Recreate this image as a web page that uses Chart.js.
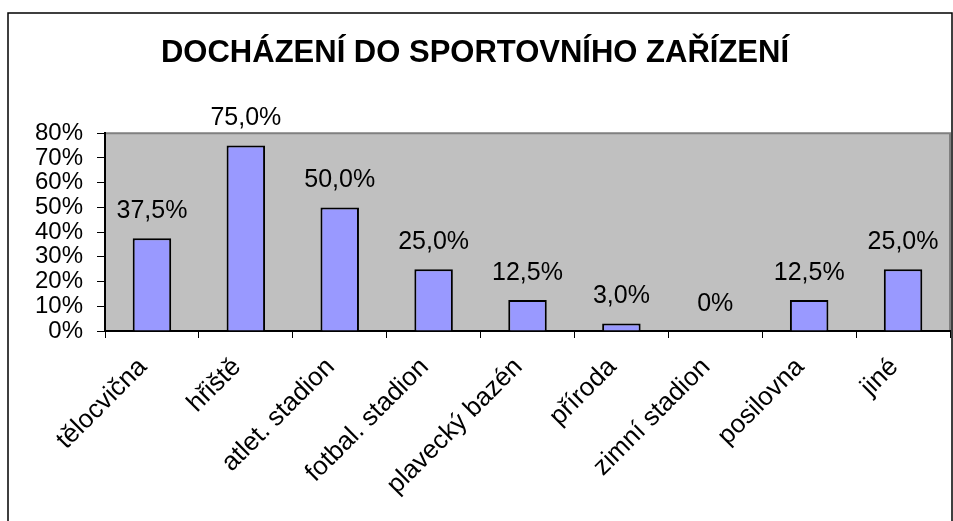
<!DOCTYPE html>
<html>
<head>
<meta charset="utf-8">
<script src="https://cdn.jsdelivr.net/npm/chart.js@4"></script>
<style>
  html, body { margin: 0; padding: 0; background: #fff; }
  #wrap { width: 953px; height: 521px; }
</style>
</head>
<body>
<div id="wrap"><canvas id="graf"></canvas></div>
<script>
let mista = ['tělocvična', 'hřiště', 'atlet. stadion', 'fotbal. stadion', 'plavecký bazén', 'příroda', 'zimní stadion', 'posilovna', 'jiné'];
let procenta = [37.5, 75, 50, 25, 12.5, 3, 0, 12.5, 25];
let osaY = [0, 10, 20, 30, 40, 50, 60, 70, 80];

const FONT = 'Liberation Sans, Arial, sans-serif';

function popisek(v) {
  if (v === 0) return '0%';
  return v.toFixed(1).replace('.', ',') + '%';
}

// sede pozadi grafu + ramecek kolem obrazku
const pozadi = {
  id: 'pozadi',
  beforeDraw(chart) {
    const a = chart.chartArea, ctx = chart.ctx;
    ctx.save();
    ctx.fillStyle = '#fff';
    ctx.fillRect(0, 0, chart.width, chart.height);
    ctx.fillStyle = '#c0c0c0';
    ctx.fillRect(a.left, a.top, a.right - a.left, a.bottom - a.top);
    ctx.strokeStyle = '#808080';
    ctx.lineWidth = 2;
    ctx.beginPath();
    ctx.moveTo(a.left, a.top);
    ctx.lineTo(a.right, a.top);
    ctx.lineTo(a.right, a.bottom);
    ctx.stroke();
    ctx.strokeStyle = '#000';
    ctx.lineWidth = 1.5;
    ctx.strokeRect(8, 13, 944, 540);
    ctx.restore();
  }
};

// hodnoty nad sloupci
const hodnoty = {
  id: 'hodnoty',
  afterDatasetsDraw(chart) {
    const ctx = chart.ctx;
    const meta = chart.getDatasetMeta(0);
    ctx.save();
    ctx.font = '25px ' + FONT;
    ctx.fillStyle = '#000';
    ctx.textAlign = 'center';
    ctx.textBaseline = 'middle';
    meta.data.forEach((bar, i) => {
      ctx.fillText(popisek(procenta[i]), bar.x, bar.y - 27);
    });
    ctx.restore();
  }
};

new Chart(document.getElementById('graf').getContext('2d'), {
  type: 'bar',
  data: {
    labels: mista,
    datasets: [{
      data: procenta,
      backgroundColor: '#9999ff',
      borderColor: '#000',
      borderWidth: 2,
      barPercentage: 0.41,
      categoryPercentage: 1
    }]
  },
  options: {
    responsive: true,
    maintainAspectRatio: false,
    animation: false,
    layout: { padding: { left: 0, right: 3, top: 0, bottom: 0 } },
    plugins: {
      legend: { display: false },
      tooltip: { enabled: false },
      title: {
        display: true,
        text: 'DOCHÁZENÍ DO SPORTOVNÍHO ZAŘÍZENÍ',
        color: '#000',
        font: { family: FONT, size: 31, weight: 'bold' },
        padding: { top: 35, bottom: 61 }
      }
    },
    scales: {
      x: {
        grid: { offset: true, drawOnChartArea: false, color: '#000', tickLength: 7, lineWidth: 1 },
        border: { color: '#000', width: 2 },
        ticks: { color: '#000', font: { family: FONT, size: 26 }, minRotation: 45, maxRotation: 45, padding: 14, labelOffset: -9, autoSkip: false },
        afterFit(s) { s.height = 190; }
      },
      y: {
        min: 0,
        max: 80,
        afterBuildTicks(s) { s.ticks = osaY.map(v => ({ value: v })); },
        grid: { drawOnChartArea: false, color: '#000', tickLength: 8 },
        border: { color: '#000', width: 2 },
        ticks: { color: '#000', font: { family: FONT, size: 24 }, padding: 14, autoSkip: false, callback: v => v + '%' },
        afterFit(s) { s.width = 105; }
      }
    }
  },
  plugins: [pozadi, hodnoty]
});
</script>
</body>
</html>
